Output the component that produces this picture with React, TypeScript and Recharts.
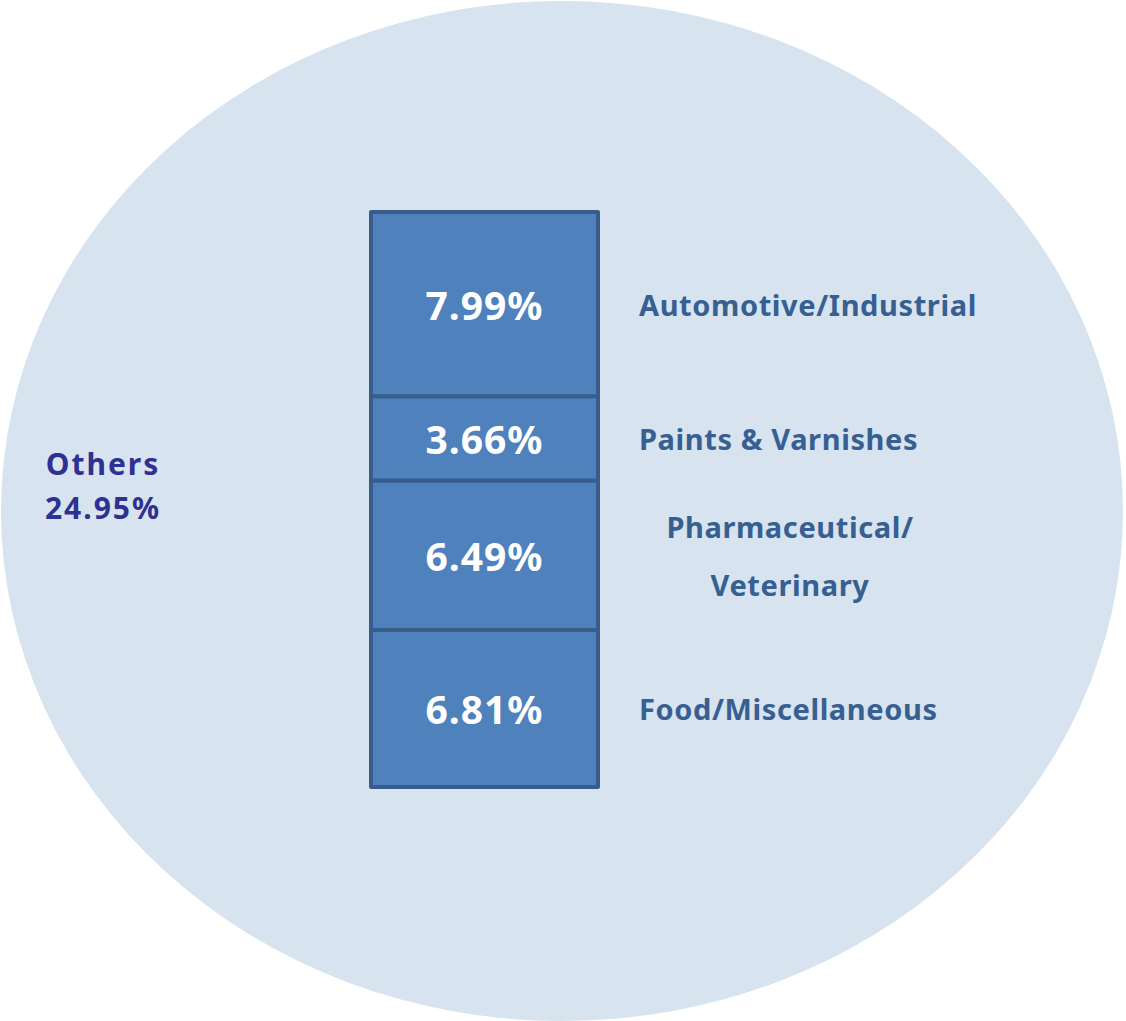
import React from 'react';
import { BarChart, Bar, XAxis, YAxis, LabelList } from 'recharts';

// stacked segments, bottom to top
const segmentKeys = ['food', 'pharma', 'paints', 'auto'];
const segmentNames = ['Food/Miscellaneous', 'Pharmaceutical/\nVeterinary', 'Paints & Varnishes', 'Automotive/Industrial'];
const segmentShares = [6.81, 6.49, 3.66, 7.99];

const othersName = 'Others';
const othersShare = 24.95;

const W = 1126;
const H = 1021;
const FONT = '"Noto Sans", "DejaVu Sans", sans-serif';

const row: Record<string, string | number> = { name: 'breakdown' };
segmentKeys.forEach((k, i) => {
  row[k] = segmentShares[i];
});
const data = [row];

const valueLabel = (props: any) => {
  const { x, y, width, height, value } = props;
  return (
    <text
      x={x + width / 2}
      y={y + height / 2}
      textAnchor="middle"
      dominantBaseline="central"
      fill="#ffffff"
      fontSize={39}
      fontWeight="bold"
      fontFamily={FONT}
      letterSpacing={1}
    >
      {`${Number(value).toFixed(2)}%`}
    </text>
  );
};

const nameLabel = (idx: number) => (props: any) => {
  const { x, y, width, height } = props;
  const lines = segmentNames[idx].split('\n');
  const cy = y + height / 2;
  const multi = lines.length > 1;
  const tx = multi ? x + width + 192 : x + width + 41;
  return (
    <text
      textAnchor={multi ? 'middle' : 'start'}
      fill="#376092"
      fontSize={29}
      fontWeight="bold"
      fontFamily={FONT}
      letterSpacing={0.6}
    >
      {lines.map((ln, j) => (
        <tspan key={j} x={tx} y={cy + (j - (lines.length - 1) / 2) * 58} dominantBaseline="central">
          {ln}
        </tspan>
      ))}
    </text>
  );
};

export default function App() {
  return (
    <div style={{ position: 'absolute', left: 0, top: 0, width: W, height: H, background: '#fff' }}>
      <div
        style={{
          position: 'absolute',
          left: 1,
          top: 1,
          width: 1122,
          height: 1020,
          borderRadius: '50%',
          background: '#d7e3ef',
        }}
      />
      <div style={{ position: 'absolute', left: 0, top: 0 }}>
        <BarChart
          width={W}
          height={H}
          data={data}
          margin={{ top: 212, right: W - 598, bottom: H - 787, left: 371 }}
          barCategoryGap={0}
        >
          <XAxis dataKey="name" hide />
          <YAxis hide domain={[0, othersShare]} />
          {segmentKeys.map((k, i) => (
            <Bar
              key={k}
              dataKey={k}
              stackId="s"
              fill="#4f81bd"
              stroke="#385d8a"
              strokeWidth={4}
              strokeLinejoin="round"
              isAnimationActive={false}
            >
              <LabelList dataKey={k} content={valueLabel} />
              <LabelList dataKey={k} content={nameLabel(i)} />
            </Bar>
          ))}
          <text
            textAnchor="middle"
            fill="#2e3192"
            fontSize={30}
            fontWeight="bold"
            fontFamily={FONT}
            letterSpacing={2}
          >
            <tspan x={103} y={475}>{othersName}</tspan>
            <tspan x={103} y={519}>{`${othersShare.toFixed(2)}%`}</tspan>
          </text>
        </BarChart>
      </div>
    </div>
  );
}
